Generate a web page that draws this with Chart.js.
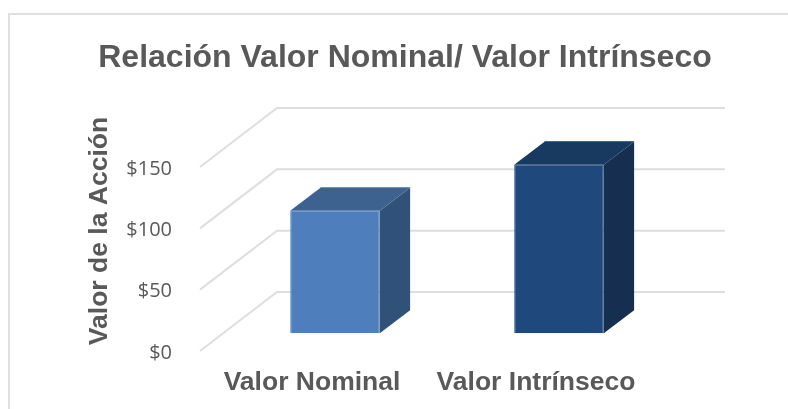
<!DOCTYPE html>
<html>
<head>
<meta charset="utf-8">
<title>Relación Valor Nominal/ Valor Intrínseco</title>
<script src="https://cdn.jsdelivr.net/npm/chart.js@4"></script>
<style>
  html, body { margin: 0; padding: 0; background: #ffffff; overflow: hidden; }
  #frame {
    position: absolute; left: 8px; top: 13px; right: 0; bottom: 0;
    border-top: 2px solid #e0e0e0; border-left: 2px solid #e0e0e0;
  }
  #chart { position: absolute; left: 0; top: 0; }
</style>
</head>
<body>
<div id="frame"></div>
<canvas id="chart" width="788" height="409"></canvas>
<script>
const categories = ["Valor Nominal", "Valor Intrínseco"];
const values = [100, 137.5];
const yTicks = [0, 50, 100, 150];
const yAxisTitle = "Valor de la Acción";

const TEXT = "#595959";
const GRID = "#dedede";
const FRONT = ["#4e7fbc", "#1f497d"];
const EDGE = ["#5c8ac3", "#2d5688"];
const SIDE = ["#315278", "#162f50"];
const TOP = ["#3e6290", "#193a60"];

// 3D look: how far the floor goes back, and where the bars sit on it
const WALL_SHIFT_Y = -2;
const DEPTH_X = 77;
const DEPTH_Y = -59;
const BAR_SHIFT_X = 23;
const BAR_SHIFT_Y = -19.7;
const BAR_DEPTH_X = 30.3;
const BAR_DEPTH_Y = -23;

const wall3d = {
  id: "wall3d",
  beforeDatasetsDraw(chart) {
    const { ctx, chartArea, scales } = chart;
    ctx.save();
    ctx.strokeStyle = GRID;
    ctx.lineWidth = 2;
    yTicks.forEach((v) => {
      const y = scales.y.getPixelForValue(v) + WALL_SHIFT_Y;
      ctx.beginPath();
      ctx.moveTo(chartArea.left, y);
      ctx.lineTo(chartArea.left + DEPTH_X, y + DEPTH_Y);
      ctx.lineTo(chartArea.right + DEPTH_X, y + DEPTH_Y);
      ctx.stroke();
    });
    ctx.restore();
  },
};

const bars3d = {
  id: "bars3d",
  beforeDatasetDraw(chart) {
    chart.ctx.save();
    chart.ctx.translate(BAR_SHIFT_X, BAR_SHIFT_Y);
  },
  afterDatasetDraw(chart, args) {
    const ctx = chart.ctx;
    args.meta.data.forEach((bar, i) => {
      const left = bar.x - bar.width / 2;
      const right = bar.x + bar.width / 2;

      // side face
      ctx.fillStyle = SIDE[i];
      ctx.beginPath();
      ctx.moveTo(right, bar.y);
      ctx.lineTo(right + BAR_DEPTH_X, bar.y + BAR_DEPTH_Y);
      ctx.lineTo(right + BAR_DEPTH_X, bar.base + BAR_DEPTH_Y);
      ctx.lineTo(right, bar.base);
      ctx.closePath();
      ctx.fill();

      // top face
      ctx.fillStyle = TOP[i];
      ctx.beginPath();
      ctx.moveTo(left, bar.y);
      ctx.lineTo(left + BAR_DEPTH_X, bar.y + BAR_DEPTH_Y);
      ctx.lineTo(right + BAR_DEPTH_X, bar.y + BAR_DEPTH_Y);
      ctx.lineTo(right, bar.y);
      ctx.closePath();
      ctx.fill();

      // thin light edge along the back
      ctx.strokeStyle = EDGE[i];
      ctx.lineWidth = 1;
      ctx.beginPath();
      ctx.moveTo(left + BAR_DEPTH_X, bar.y + BAR_DEPTH_Y);
      ctx.lineTo(right + BAR_DEPTH_X, bar.y + BAR_DEPTH_Y);
      ctx.stroke();
    });
    ctx.restore();
  },
};

// the axis title is centred on the 3D wall, not on the scale, so it is placed by hand
const sideTitle = {
  id: "sideTitle",
  afterDraw(chart) {
    const ctx = chart.ctx;
    ctx.save();
    ctx.translate(100, 231);
    ctx.rotate(-Math.PI / 2);
    ctx.fillStyle = TEXT;
    ctx.font = "bold 26.5px 'Liberation Sans'";
    ctx.textAlign = "center";
    ctx.textBaseline = "middle";
    ctx.fillText(yAxisTitle, 0, 0);
    ctx.restore();
  },
};

new Chart(document.getElementById("chart"), {
  type: "bar",
  data: {
    labels: categories,
    datasets: [
      {
        data: values,
        backgroundColor: FRONT,
        borderColor: EDGE,
        borderWidth: 1,
        barPercentage: 1,
        categoryPercentage: 0.4,
        clip: false,
      },
    ],
  },
  options: {
    responsive: false,
    animation: false,
    layout: { padding: { left: 22, right: 0, top: 0, bottom: 0 } },
    plugins: {
      legend: { display: false },
      tooltip: { enabled: false },
      title: {
        display: true,
        text: "Relación Valor Nominal/ Valor Intrínseco",
        color: TEXT,
        font: { family: "'Liberation Sans'", size: 32, weight: "bold" },
        padding: { top: 39, bottom: 91.6 },
      },
    },
    scales: {
      x: {
        grid: { display: false, drawTicks: false },
        border: { display: false },
        ticks: {
          color: TEXT,
          font: { family: "'Liberation Sans'", size: 26.5, weight: "bold" },
          padding: 14,
          maxRotation: 0,
          autoSkip: false,
        },
        afterFit(scale) {
          scale.height = 56;
        },
      },
      y: {
        min: 0,
        max: 150,
        afterBuildTicks(scale) {
          scale.ticks = yTicks.map((v) => ({ value: v }));
        },
        grid: { display: false, drawTicks: false },
        border: { display: false },
        ticks: {
          color: TEXT,
          font: { family: "'Open Sans'", size: 20 },
          padding: 28,
          callback: (v) => "$" + v,
        },
        afterFit(scale) {
          scale.width = 178;
        },
      },
      // empty axis, only keeps the space on the right for the back wall
      spacer: {
        position: "right",
        grid: { display: false, drawTicks: false },
        border: { display: false },
        ticks: { display: false },
        afterFit(scale) {
          scale.width = 140;
        },
      },
    },
  },
  plugins: [wall3d, bars3d, sideTitle],
});
</script>
</body>
</html>
